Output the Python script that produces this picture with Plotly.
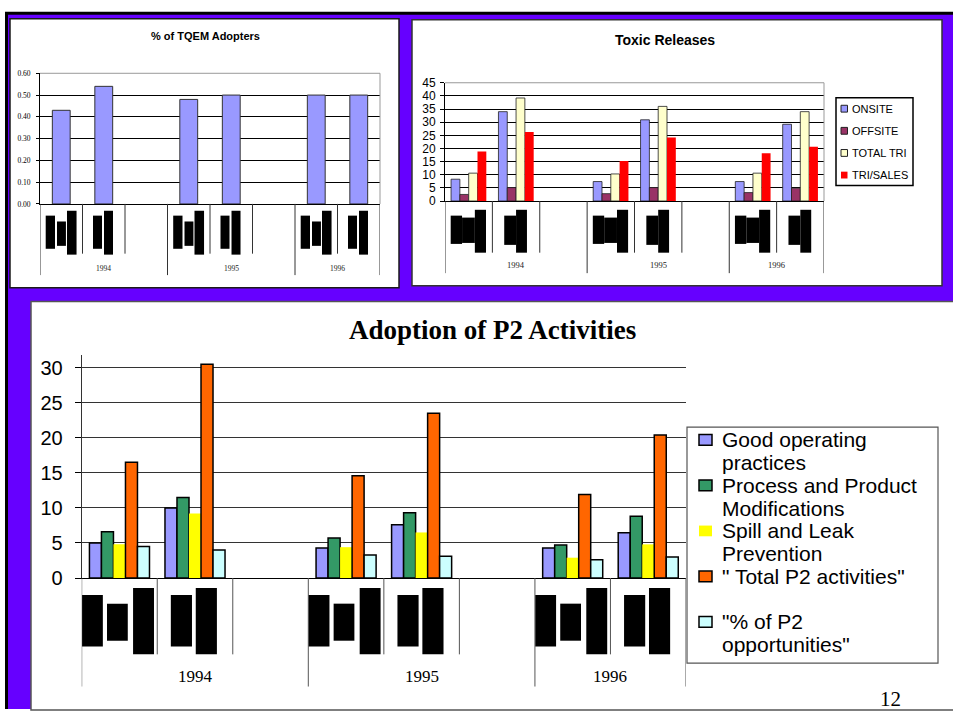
import plotly.graph_objects as go

W, H = 953, 718


def px(x):
    return x / W


def py(y):
    return 1 - y / H


SANS = "Liberation Sans"
SERIF = "Liberation Serif"
PURPLE = "#6600FF"

# ---------------- data ----------------
years = ["1994", "1995", "1996"]
slots_per_year = [3, 3, 2]          # sub-category slots per year (last slot of a year left empty)
bars_per_year = 2

# % of TQEM adopters
tqem_values = [0.43, 0.54, 0.48, 0.50, 0.50, 0.50]

# Toxic releases
toxic_names = ["ONSITE", "OFFSITE", "TOTAL TRI", "TRI/SALES"]
onsite = [8.3, 34.0, 7.4, 30.9, 7.4, 29.2]
offsite = [2.5, 5.1, 2.8, 5.1, 3.2, 4.9]
total_tri = [10.6, 39.2, 10.3, 36.0, 10.6, 34.0]
tri_sales = [18.8, 26.3, 15.2, 24.2, 18.2, 20.6]
toxic_values = [onsite, offsite, total_tri, tri_sales]
toxic_colors = ["#9999FF", "#993366", "#FFFFCC", "#FF0000"]
toxic_outline = [True, True, True, False]

# Adoption of P2 activities
p2_legend_lines = [
    ["Good operating", "practices"],
    ["Process and Product", "Modifications"],
    ["Spill and Leak", "Prevention"],
    ['" Total P2 activities"'],
    ['"% of P2', 'opportunities"'],
]
good_ops = [5.0, 10.0, 4.3, 7.6, 4.3, 6.45]
process_mod = [6.6, 11.5, 5.7, 9.3, 4.7, 8.8]
spill_leak = [4.8, 9.2, 4.4, 6.5, 2.9, 4.8]
total_p2 = [16.5, 30.5, 14.6, 23.5, 11.9, 20.4]
pct_p2 = [4.5, 4.0, 3.3, 3.1, 2.6, 3.0]
p2_values = [good_ops, process_mod, spill_leak, total_p2, pct_p2]
p2_colors = ["#9999FF", "#339966", "#FFFF00", "#FF6600", "#CCFFFF"]
p2_outline = [True, True, False, True, True]

# slot index of every bar along the category axis
slot_start = [sum(slots_per_year[:i]) for i in range(len(years))]
x_pos = [slot_start[i] + j for i in range(len(years)) for j in range(bars_per_year)]
n_slots = sum(slots_per_year)
group_bounds = [s - 0.5 for s in slot_start] + [n_slots - 0.5]
group_centers = [slot_start[i] - 0.5 + slots_per_year[i] / 2 for i in range(len(years))]

fig = go.Figure()

# ---------------- slide background ----------------
shapes = []
shapes.append(dict(type="rect", xref="paper", yref="paper", x0=px(5), x1=px(W + 2), y0=py(H + 2), y1=py(5),
                   fillcolor="black", line_width=0, layer="below"))
shapes.append(dict(type="rect", xref="paper", yref="paper", x0=px(8), x1=px(W + 2), y0=py(H + 2), y1=py(8),
                   fillcolor=PURPLE, line_width=0, layer="below"))
for (x0, y0, x1, y1, lc) in [(10, 12, 399, 288, "#1a1a1a"), (412, 13, 942, 286, "#333333"),
                             (31, 302, W + 3, H + 3, "#555555")]:
    shapes.append(dict(type="rect", xref="paper", yref="paper", x0=px(x0), x1=px(x1), y0=py(y1), y1=py(y0),
                       fillcolor="white", line=dict(color=lc, width=1.5), layer="below"))

# ---------------- axes ----------------
charts = [
    # (xaxis, yaxis, left, right, zero, top, yrange, dtick)
    ("x", "y", 40, 380, 202, 68, [0, 0.6], 0.1),
    ("x2", "y2", 445, 824, 199, 77.7, [0, 45], 5),
    ("x3", "y3", 81.7, 686, 585.7, 356.7, [0, 31.85], 5),
]
tick_fonts = [dict(family=SERIF, size=7.5, color="black"),
              dict(family=SANS, size=12, color="black"),
              dict(family=SANS, size=20, color="black")]
tick_lens = [3, 4, 6]
grid_colors = ["black", "black", "#333333"]
standoffs = [4, 2, 8]
layout_axes = {}
for k, (xa, ya, left, right, zero, top, yr, dt) in enumerate(charts):
    xname = "xaxis" if xa == "x" else "xaxis" + xa[1:]
    yname = "yaxis" if ya == "y" else "yaxis" + ya[1:]
    layout_axes[xname] = dict(domain=[px(left), px(right)], range=[-0.5, n_slots - 0.5], anchor=ya,
                              showticklabels=False, ticks="", showgrid=False, zeroline=False,
                              showline=True, linecolor="black", linewidth=1, fixedrange=True)
    layout_axes[yname] = dict(domain=[py(zero), py(top)], range=yr, anchor=xa, dtick=dt, tick0=0,
                              tickformat=".2f" if k == 0 else "d",
                              ticks="outside", ticklen=tick_lens[k], tickcolor="black",
                              showline=True, linecolor="black" if k < 2 else "#333333", linewidth=1,
                              showgrid=True, gridcolor=grid_colors[k], gridwidth=1, zeroline=False,
                              tickfont=tick_fonts[k], ticklabelstandoff=standoffs[k], fixedrange=True)

# grey plot-area frame (top and right) for the two upper charts
for xa, ya in [("x", "y"), ("x2", "y2")]:
    shapes.append(dict(type="line", xref=xa + " domain", yref=ya + " domain", x0=0, x1=1, y0=1, y1=1,
                       line=dict(color="#999999", width=1)))
    shapes.append(dict(type="line", xref=xa + " domain", yref=ya + " domain", x0=1, x1=1, y0=0, y1=1,
                       line=dict(color="#999999", width=1)))

# ---------------- bars ----------------
fig.add_trace(go.Bar(x=x_pos, y=tqem_values, xaxis="x", yaxis="y", width=0.42, showlegend=False,
                     marker=dict(color="#9999FF", line=dict(color="#333333", width=1))))

w2 = 0.186
for k, (name, vals) in enumerate(zip(toxic_names, toxic_values)):
    fig.add_trace(go.Bar(x=x_pos, y=vals, name=name, xaxis="x2", yaxis="y2", showlegend=False,
                         width=w2, offset=-2 * w2 + k * w2,
                         marker=dict(color=toxic_colors[k],
                                     line=dict(color="#222222", width=0.8 if toxic_outline[k] else 0))))

w3 = 0.159
for k, (lines, vals) in enumerate(zip(p2_legend_lines, p2_values)):
    fig.add_trace(go.Bar(x=x_pos, y=vals, name=" ".join(lines), xaxis="x3", yaxis="y3", showlegend=False,
                         width=w3, offset=-2.5 * w3 + k * w3,
                         marker=dict(color=p2_colors[k],
                                     line=dict(color="black", width=1.5 if p2_outline[k] else 0))))

# ---------------- category axis decorations ----------------
# label glyph blocks per sub-category slot: (x0 frac, x1 frac, top px, bottom px)
block_patterns = [
    ([(0.134, 0.353, 214, 248), (0.40, 0.61, 220, 245), (0.635, 0.86, 209, 254)],
     [(0.247, 0.459, 214, 248), (0.506, 0.718, 209, 254)]),
    ([(0.12, 0.36, 214, 243), (0.36, 0.63, 216, 242), (0.63, 0.865, 208, 252)],
     [(0.25, 0.50, 214, 244), (0.50, 0.73, 208, 252)]),
    ([(0.005, 0.28, 603, 656), (0.335, 0.61, 612, 650), (0.68, 0.957, 596, 664)],
     [(0.18, 0.46, 603, 656), (0.51, 0.79, 596, 664)]),
]
divider_ends = [(253, 275), (252, 273), (664, 697)]
divider_colors = ["#333333", "#333333", "#555555"]
year_label_y = [268, 265, 687]
year_fonts = [dict(family=SERIF, size=7.5, color="#222222"),
              dict(family=SERIF, size=8.5, color="#222222"),
              dict(family=SERIF, size=17, color="black")]

annotations = []
for k, (xa, ya, left, right, zero, top, yr, dt) in enumerate(charts):
    short_end, long_end = divider_ends[k]
    for b in range(n_slots + 1):
        bx = b - 0.5
        is_group = any(abs(bx - g) < 1e-9 for g in group_bounds)
        shapes.append(dict(type="line", xref=xa, yref="paper", x0=bx, x1=bx, y0=py(zero),
                           y1=py(long_end if is_group else short_end),
                           line=dict(color=divider_colors[k], width=1)))
    first, second = block_patterns[k]
    for i, s in enumerate(x_pos):
        pattern = first if i % bars_per_year == 0 else second
        for f0, f1, yt, yb in pattern:
            shapes.append(dict(type="rect", xref=xa, yref="paper", x0=s - 0.5 + f0, x1=s - 0.5 + f1,
                               y0=py(yb), y1=py(yt), fillcolor="black", line_width=0))
    for yr_lbl, gc in zip(years, group_centers):
        annotations.append(dict(text=yr_lbl, xref=xa, yref="paper", x=gc, y=py(year_label_y[k]),
                                showarrow=False, font=year_fonts[k], xanchor="center", yanchor="middle"))

# ---------------- titles ----------------
for text, x, y, font in [
    ("<b>% of TQEM Adopters</b>", 205, 30, dict(family=SANS, size=11, color="black")),
    ("<b>Toxic Releases</b>", 665, 34, dict(family=SANS, size=14, color="black")),
    ("<b>Adoption of P2 Activities</b>", 492.5, 331, dict(family=SERIF, size=27, color="black")),
    ("12", 890, 710, dict(family=SERIF, size=21, color="black")),
]:
    annotations.append(dict(text=text, xref="paper", yref="paper", x=px(x), y=py(y), showarrow=False,
                            xanchor="center", yanchor="middle", font=font))

# ---------------- legends ----------------
# Toxic releases legend
shapes.append(dict(type="rect", xref="paper", yref="paper", x0=px(836), x1=px(913), y0=py(183), y1=py(93),
                   line=dict(color="black", width=1.5), fillcolor="white"))
for k, name in enumerate(toxic_names):
    yc = 104.3 + k * 22.7
    shapes.append(dict(type="rect", xref="paper", yref="paper", x0=px(841), x1=px(847.5),
                       y0=py(yc + 3.5), y1=py(yc - 3.5), fillcolor=toxic_colors[k],
                       line=dict(color="#222222", width=1 if toxic_outline[k] else 0)))
    annotations.append(dict(text=name, xref="paper", yref="paper", x=px(850), y=py(yc), showarrow=False,
                            xanchor="left", yanchor="middle", font=dict(family=SANS, size=11, color="black")))

# P2 activities legend
shapes.append(dict(type="rect", xref="paper", yref="paper", x0=px(687), x1=px(938), y0=py(673), y1=py(431),
                   line=dict(color="#555555", width=1.2), fillcolor="white"))
for k, lines in enumerate(p2_legend_lines):
    yc = 444 + k * 46.7
    shapes.append(dict(type="rect", xref="paper", yref="paper", x0=px(699), x1=px(712),
                       y0=py(yc + 5.5), y1=py(yc - 5.5), fillcolor=p2_colors[k],
                       line=dict(color="black", width=1.5 if p2_outline[k] else 0)))
    for j, line in enumerate(lines):
        annotations.append(dict(text=line, xref="paper", yref="paper", x=px(720), y=py(yc + j * 23.5),
                                showarrow=False, xanchor="left", yanchor="middle",
                                font=dict(family=SANS, size=21, color="black")))

fig.update_layout(
    width=W, height=H, autosize=False,
    margin=dict(l=0, r=0, t=0, b=0, pad=0),
    paper_bgcolor="white", plot_bgcolor="rgba(0,0,0,0)",
    barmode="overlay", showlegend=False,
    shapes=shapes, annotations=annotations,
    **layout_axes,
)

# the page body gets no default margin so the 953x718 figure fills the window exactly
fig.write_html("out.html", config={"displayModeBar": False},
               post_script="document.body.style.margin='0';document.body.style.overflow='hidden';")
